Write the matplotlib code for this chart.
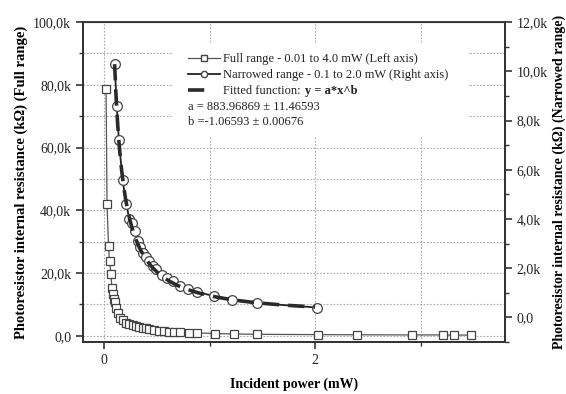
import matplotlib
matplotlib.use("Agg")
import matplotlib.pyplot as plt
from matplotlib.ticker import MultipleLocator, FuncFormatter
from matplotlib.lines import Line2D
from matplotlib.patches import Rectangle
import numpy as np

plt.rcParams['font.family'] = ['Liberation Serif', 'DejaVu Serif']

# full range, left axis (power in mW, resistance)
full_power = [0.019, 0.028, 0.042, 0.052, 0.066, 0.073, 0.082, 0.092, 0.099, 0.113,
              0.129, 0.151, 0.177, 0.208, 0.239, 0.271, 0.302, 0.333, 0.365, 0.396,
              0.427, 0.475, 0.522, 0.569, 0.616, 0.663, 0.717, 0.805, 0.884, 1.047,
              1.229, 1.450, 2.031, 2.399, 2.922, 3.217, 3.318, 3.475]
full_res = [78800, 42000, 28500, 23800, 19600, 15200, 13300, 11800, 10600, 8800,
            7200, 5800, 4900, 4200, 3700, 3300, 3000, 2800, 2600, 2500,
            2300, 1900, 1600, 1400, 1300, 1200, 1050, 950, 900, 700,
            550, 450, 350, 300, 250, 250, 200, 200]

# narrowed range, right axis
narrow_power = [0.10, 0.12, 0.14, 0.175, 0.21, 0.24, 0.26, 0.29, 0.32, 0.34,
                0.37, 0.40, 0.43, 0.46, 0.49, 0.55, 0.60, 0.65, 0.72, 0.80,
                0.88, 1.04, 1.21, 1.45, 2.02]
narrow_res = [10300, 8600, 7200, 5600, 4600, 4000, 3850, 3500, 3100, 2850,
              2600, 2450, 2300, 2100, 1950, 1720, 1580, 1480, 1280, 1160,
              1030, 870, 700, 580, 400]

fit_a = 883.96869
fit_b = -1.06593

def kfmt(v, pos):
    if abs(v) < 1e-9:
        return '0,0'
    return ('%.1fk' % (v / 1000)).replace('.', ',')

fig = plt.figure(figsize=(5.66, 3.94), dpi=100)
ax = fig.add_axes([0.1466, 0.132, 0.7455, 0.812])
ax2 = ax.twinx()

ink = '#333333'
ax.plot(full_power, full_res, '-', color='#555555', lw=0.9, marker='s', ms=5.5,
        mfc='white', mec='#444444', mew=0.9, zorder=3)

xf = np.linspace(0.1, 2.0, 200)
ax2.plot(narrow_power, narrow_res, '-', color='#222222', lw=1.3, marker='o', ms=7,
         mfc='white', mec='#444444', mew=0.9, zorder=3)
ax2.plot(xf, fit_a * xf ** fit_b, color='#2a2a2a', lw=2.6,
         ls=(0, (4.5, 2.5)), zorder=4)

ax.set_xlim(-0.2, 3.8)
ax.set_ylim(-2000, 100000)
ax2.set_ylim(-1000, 12000)

ax.xaxis.set_major_locator(MultipleLocator(2))
ax.xaxis.set_minor_locator(MultipleLocator(1))
ax.xaxis.set_major_formatter(FuncFormatter(lambda v, p: '%d' % v))
ax.yaxis.set_major_locator(MultipleLocator(20000))
ax.yaxis.set_minor_locator(MultipleLocator(10000))
ax.yaxis.set_major_formatter(FuncFormatter(kfmt))
ax2.yaxis.set_major_locator(MultipleLocator(2000))
ax2.yaxis.set_minor_locator(MultipleLocator(1000))
ax2.yaxis.set_major_formatter(FuncFormatter(kfmt))

ax.grid(True, which='both', ls=(0, (1.5, 1.5)), color='#aaaaaa', lw=0.8)
ax.set_axisbelow(True)

for a in (ax, ax2):
    for s in a.spines.values():
        s.set_color(ink)
        s.set_linewidth(1.3)
    a.tick_params(which='major', direction='out', length=5, width=1.2, color=ink,
                  labelsize=10, labelcolor='#222222')
    a.tick_params(which='minor', direction='out', length=3, width=1.0, color=ink)
ax.spines['top'].set_linewidth(0.8)

ax.set_xlabel('Incident power (mW)', fontsize=10, fontweight='bold', labelpad=8)
ax.set_ylabel('Photoresistor internal resistance (k\u03a9) (Full range)', fontsize=10.5,
              fontweight='bold', labelpad=4)
ax2.set_ylabel('Photoresistor internal resistance (k\u03a9) (Narrowed range)', fontsize=10,
               fontweight='bold', labelpad=3)

# legend block
ax2.add_patch(Rectangle((0.213, 0.64), 0.70, 0.29, transform=ax2.transAxes,
                        facecolor='white', edgecolor='none', zorder=1))
handles = [
    Line2D([], [], color='#555555', lw=0.9, marker='s', ms=4, mfc='white', mec='#444444'),
    Line2D([], [], color='#222222', lw=1.3, marker='o', ms=4.5, mfc='white', mec='#444444'),
    Line2D([], [], color='#2a2a2a', lw=2.6, ls=(0, (4.5, 8))),
]
labels = ['Full range - 0.01 to 4.0 mW (Left axis)',
          'Narrowed range - 0.1 to 2.0 mW (Right axis)',
          'Fitted function:']
leg = ax2.legend(handles, labels, loc='upper left', bbox_to_anchor=(0.25, 0.903),
                 frameon=False, fontsize=9, handlelength=2.5, handletextpad=0.3,
                 labelspacing=0.33, borderpad=0, borderaxespad=0)
for t in leg.get_texts():
    t.set_color('#222222')
ax2.annotate('y = a*x^b', xy=(1, 0), xycoords=leg.get_texts()[2], xytext=(3, 0),
             textcoords='offset points', fontsize=9, fontweight='bold', color='#222222',
             va='bottom', ha='left', zorder=6)
ax2.text(0.249, 0.735, 'a = 883.96869 \u00b1 11.46593', transform=ax2.transAxes,
         fontsize=9, color='#222222', va='center', zorder=6)
ax2.text(0.249, 0.688, 'b =-1.06593 \u00b1 0.00676', transform=ax2.transAxes,
         fontsize=9, color='#222222', va='center', zorder=6)

fig.savefig('out.png', dpi=100)
